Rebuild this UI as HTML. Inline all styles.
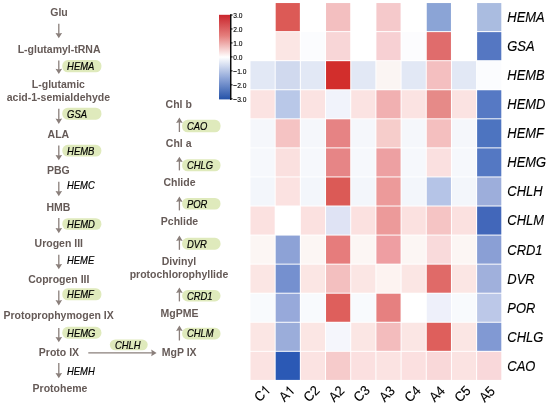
<!DOCTYPE html><html><head><meta charset="utf-8"><style>html,body{margin:0;padding:0;background:#fff}body{width:550px;height:407px;position:relative;overflow:hidden;font-family:"Liberation Sans",sans-serif}svg text{font-family:"Liberation Sans",sans-serif}</style></head><body>
<svg width="550" height="407" viewBox="0 0 550 407" style="position:absolute;left:0;top:0;will-change:transform">
<defs><linearGradient id="cb" x1="0" y1="0" x2="0" y2="1"><stop offset="0" stop-color="#c9252c"/><stop offset="0.25" stop-color="#e57f7d"/><stop offset="0.5" stop-color="#ffffff"/><stop offset="0.75" stop-color="#8fa6d8"/><stop offset="1" stop-color="#2452a8"/></linearGradient></defs>
<rect x="250.50" y="3.05" width="24.18" height="28.07" fill="#ffffff"/>
<rect x="275.68" y="3.05" width="24.18" height="28.07" fill="#dc5a56"/>
<rect x="300.86" y="3.05" width="24.18" height="28.07" fill="#ffffff"/>
<rect x="326.04" y="3.05" width="24.18" height="28.07" fill="#f3bfc0"/>
<rect x="351.22" y="3.05" width="24.18" height="28.07" fill="#ffffff"/>
<rect x="376.40" y="3.05" width="24.18" height="28.07" fill="#f5c9cb"/>
<rect x="401.58" y="3.05" width="24.18" height="28.07" fill="#ffffff"/>
<rect x="426.76" y="3.05" width="24.18" height="28.07" fill="#8ba4d6"/>
<rect x="451.94" y="3.05" width="24.18" height="28.07" fill="#ffffff"/>
<rect x="477.12" y="3.05" width="24.18" height="28.07" fill="#aabce0"/>
<rect x="250.50" y="32.12" width="24.18" height="28.07" fill="#ffffff"/>
<rect x="275.68" y="32.12" width="24.18" height="28.07" fill="#fbe6e4"/>
<rect x="300.86" y="32.12" width="24.18" height="28.07" fill="#fbfcfe"/>
<rect x="326.04" y="32.12" width="24.18" height="28.07" fill="#f8d6d7"/>
<rect x="351.22" y="32.12" width="24.18" height="28.07" fill="#ffffff"/>
<rect x="376.40" y="32.12" width="24.18" height="28.07" fill="#f7d0d3"/>
<rect x="401.58" y="32.12" width="24.18" height="28.07" fill="#fcfcfe"/>
<rect x="426.76" y="32.12" width="24.18" height="28.07" fill="#e06c6c"/>
<rect x="451.94" y="32.12" width="24.18" height="28.07" fill="#ffffff"/>
<rect x="477.12" y="32.12" width="24.18" height="28.07" fill="#5577c2"/>
<rect x="250.50" y="61.18" width="24.18" height="28.07" fill="#e2e8f5"/>
<rect x="275.68" y="61.18" width="24.18" height="28.07" fill="#d0d9ee"/>
<rect x="300.86" y="61.18" width="24.18" height="28.07" fill="#e2e8f5"/>
<rect x="326.04" y="61.18" width="24.18" height="28.07" fill="#d22e2c"/>
<rect x="351.22" y="61.18" width="24.18" height="28.07" fill="#e2e8f5"/>
<rect x="376.40" y="61.18" width="24.18" height="28.07" fill="#fbf5f3"/>
<rect x="401.58" y="61.18" width="24.18" height="28.07" fill="#e2e8f5"/>
<rect x="426.76" y="61.18" width="24.18" height="28.07" fill="#f4bfc0"/>
<rect x="451.94" y="61.18" width="24.18" height="28.07" fill="#e2e8f5"/>
<rect x="477.12" y="61.18" width="24.18" height="28.07" fill="#fbfcfe"/>
<rect x="250.50" y="90.25" width="24.18" height="28.07" fill="#fbe3e2"/>
<rect x="275.68" y="90.25" width="24.18" height="28.07" fill="#b9c8e8"/>
<rect x="300.86" y="90.25" width="24.18" height="28.07" fill="#fbe3e2"/>
<rect x="326.04" y="90.25" width="24.18" height="28.07" fill="#f1f3fb"/>
<rect x="351.22" y="90.25" width="24.18" height="28.07" fill="#fbe3e2"/>
<rect x="376.40" y="90.25" width="24.18" height="28.07" fill="#f1b0b1"/>
<rect x="401.58" y="90.25" width="24.18" height="28.07" fill="#fbe3e2"/>
<rect x="426.76" y="90.25" width="24.18" height="28.07" fill="#e68a88"/>
<rect x="451.94" y="90.25" width="24.18" height="28.07" fill="#fbe3e2"/>
<rect x="477.12" y="90.25" width="24.18" height="28.07" fill="#5679c4"/>
<rect x="250.50" y="119.31" width="24.18" height="28.07" fill="#f5f7fb"/>
<rect x="275.68" y="119.31" width="24.18" height="28.07" fill="#f5c3c3"/>
<rect x="300.86" y="119.31" width="24.18" height="28.07" fill="#f5f7fb"/>
<rect x="326.04" y="119.31" width="24.18" height="28.07" fill="#e68384"/>
<rect x="351.22" y="119.31" width="24.18" height="28.07" fill="#f5f7fb"/>
<rect x="376.40" y="119.31" width="24.18" height="28.07" fill="#f6cdcb"/>
<rect x="401.58" y="119.31" width="24.18" height="28.07" fill="#f5f7fb"/>
<rect x="426.76" y="119.31" width="24.18" height="28.07" fill="#f4bfbf"/>
<rect x="451.94" y="119.31" width="24.18" height="28.07" fill="#f5f7fb"/>
<rect x="477.12" y="119.31" width="24.18" height="28.07" fill="#4d74c0"/>
<rect x="250.50" y="148.38" width="24.18" height="28.07" fill="#f6f8fc"/>
<rect x="275.68" y="148.38" width="24.18" height="28.07" fill="#fae0df"/>
<rect x="300.86" y="148.38" width="24.18" height="28.07" fill="#f6f8fc"/>
<rect x="326.04" y="148.38" width="24.18" height="28.07" fill="#e68586"/>
<rect x="351.22" y="148.38" width="24.18" height="28.07" fill="#f6f8fc"/>
<rect x="376.40" y="148.38" width="24.18" height="28.07" fill="#eda0a2"/>
<rect x="401.58" y="148.38" width="24.18" height="28.07" fill="#f6f8fc"/>
<rect x="426.76" y="148.38" width="24.18" height="28.07" fill="#fae0e0"/>
<rect x="451.94" y="148.38" width="24.18" height="28.07" fill="#f6f8fc"/>
<rect x="477.12" y="148.38" width="24.18" height="28.07" fill="#5478c3"/>
<rect x="250.50" y="177.44" width="24.18" height="28.07" fill="#f3f6fb"/>
<rect x="275.68" y="177.44" width="24.18" height="28.07" fill="#fbe2e1"/>
<rect x="300.86" y="177.44" width="24.18" height="28.07" fill="#f3f6fb"/>
<rect x="326.04" y="177.44" width="24.18" height="28.07" fill="#db5a56"/>
<rect x="351.22" y="177.44" width="24.18" height="28.07" fill="#f3f6fb"/>
<rect x="376.40" y="177.44" width="24.18" height="28.07" fill="#ec9a9a"/>
<rect x="401.58" y="177.44" width="24.18" height="28.07" fill="#f3f6fb"/>
<rect x="426.76" y="177.44" width="24.18" height="28.07" fill="#b5c4e7"/>
<rect x="451.94" y="177.44" width="24.18" height="28.07" fill="#f3f6fb"/>
<rect x="477.12" y="177.44" width="24.18" height="28.07" fill="#9daedb"/>
<rect x="250.50" y="206.51" width="24.18" height="28.07" fill="#fbe1e0"/>
<rect x="275.68" y="206.51" width="24.18" height="28.07" fill="#ffffff"/>
<rect x="300.86" y="206.51" width="24.18" height="28.07" fill="#fbe1e0"/>
<rect x="326.04" y="206.51" width="24.18" height="28.07" fill="#dfe3f4"/>
<rect x="351.22" y="206.51" width="24.18" height="28.07" fill="#fbe1e0"/>
<rect x="376.40" y="206.51" width="24.18" height="28.07" fill="#ec9a9a"/>
<rect x="401.58" y="206.51" width="24.18" height="28.07" fill="#fbe1e0"/>
<rect x="426.76" y="206.51" width="24.18" height="28.07" fill="#f5c4c4"/>
<rect x="451.94" y="206.51" width="24.18" height="28.07" fill="#fbe1e0"/>
<rect x="477.12" y="206.51" width="24.18" height="28.07" fill="#4267ba"/>
<rect x="250.50" y="235.57" width="24.18" height="28.07" fill="#fcf6f4"/>
<rect x="275.68" y="235.57" width="24.18" height="28.07" fill="#8da2d6"/>
<rect x="300.86" y="235.57" width="24.18" height="28.07" fill="#fcf6f4"/>
<rect x="326.04" y="235.57" width="24.18" height="28.07" fill="#e67c7c"/>
<rect x="351.22" y="235.57" width="24.18" height="28.07" fill="#fcf6f4"/>
<rect x="376.40" y="235.57" width="24.18" height="28.07" fill="#ee9ea2"/>
<rect x="401.58" y="235.57" width="24.18" height="28.07" fill="#fcf6f4"/>
<rect x="426.76" y="235.57" width="24.18" height="28.07" fill="#f9dadb"/>
<rect x="451.94" y="235.57" width="24.18" height="28.07" fill="#fcf6f4"/>
<rect x="477.12" y="235.57" width="24.18" height="28.07" fill="#8a9fd5"/>
<rect x="250.50" y="264.64" width="24.18" height="28.07" fill="#fbe6e4"/>
<rect x="275.68" y="264.64" width="24.18" height="28.07" fill="#7590cf"/>
<rect x="300.86" y="264.64" width="24.18" height="28.07" fill="#fbe6e4"/>
<rect x="326.04" y="264.64" width="24.18" height="28.07" fill="#f3bfbf"/>
<rect x="351.22" y="264.64" width="24.18" height="28.07" fill="#fbe6e4"/>
<rect x="376.40" y="264.64" width="24.18" height="28.07" fill="#fdf3f1"/>
<rect x="401.58" y="264.64" width="24.18" height="28.07" fill="#fbe6e4"/>
<rect x="426.76" y="264.64" width="24.18" height="28.07" fill="#e06a68"/>
<rect x="451.94" y="264.64" width="24.18" height="28.07" fill="#fbe6e4"/>
<rect x="477.12" y="264.64" width="24.18" height="28.07" fill="#a0b0dc"/>
<rect x="250.50" y="293.70" width="24.18" height="28.07" fill="#f8fafd"/>
<rect x="275.68" y="293.70" width="24.18" height="28.07" fill="#97a9da"/>
<rect x="300.86" y="293.70" width="24.18" height="28.07" fill="#f8fafd"/>
<rect x="326.04" y="293.70" width="24.18" height="28.07" fill="#de5f5c"/>
<rect x="351.22" y="293.70" width="24.18" height="28.07" fill="#f8fafd"/>
<rect x="376.40" y="293.70" width="24.18" height="28.07" fill="#e68080"/>
<rect x="401.58" y="293.70" width="24.18" height="28.07" fill="#ffffff"/>
<rect x="426.76" y="293.70" width="24.18" height="28.07" fill="#eef0fa"/>
<rect x="451.94" y="293.70" width="24.18" height="28.07" fill="#f8fafd"/>
<rect x="477.12" y="293.70" width="24.18" height="28.07" fill="#bcc8e8"/>
<rect x="250.50" y="322.77" width="24.18" height="28.07" fill="#fbe6e4"/>
<rect x="275.68" y="322.77" width="24.18" height="28.07" fill="#9badda"/>
<rect x="300.86" y="322.77" width="24.18" height="28.07" fill="#fbe6e4"/>
<rect x="326.04" y="322.77" width="24.18" height="28.07" fill="#f5f6fc"/>
<rect x="351.22" y="322.77" width="24.18" height="28.07" fill="#fbe6e4"/>
<rect x="376.40" y="322.77" width="24.18" height="28.07" fill="#f3bcbd"/>
<rect x="401.58" y="322.77" width="24.18" height="28.07" fill="#fbe6e4"/>
<rect x="426.76" y="322.77" width="24.18" height="28.07" fill="#de5f5c"/>
<rect x="451.94" y="322.77" width="24.18" height="28.07" fill="#fbe6e4"/>
<rect x="477.12" y="322.77" width="24.18" height="28.07" fill="#8199d3"/>
<rect x="250.50" y="351.83" width="24.18" height="28.07" fill="#fbe3e2"/>
<rect x="275.68" y="351.83" width="24.18" height="28.07" fill="#2b59b5"/>
<rect x="300.86" y="351.83" width="24.18" height="28.07" fill="#fbe3e2"/>
<rect x="326.04" y="351.83" width="24.18" height="28.07" fill="#f6cbcb"/>
<rect x="351.22" y="351.83" width="24.18" height="28.07" fill="#fbe0e0"/>
<rect x="376.40" y="351.83" width="24.18" height="28.07" fill="#fbe3e2"/>
<rect x="401.58" y="351.83" width="24.18" height="28.07" fill="#fbe0e0"/>
<rect x="426.76" y="351.83" width="24.18" height="28.07" fill="#f9d8d9"/>
<rect x="451.94" y="351.83" width="24.18" height="28.07" fill="#fbe3e2"/>
<rect x="477.12" y="351.83" width="24.18" height="28.07" fill="#f9d8da"/>
<rect x="219" y="14.8" width="11.3" height="84.6" fill="url(#cb)"/>
<line x1="230.75" y1="14.3" x2="230.75" y2="100" stroke="#000" stroke-width="1.4"/>
<line x1="230.6" y1="15.00" x2="232.6" y2="15.00" stroke="#000" stroke-width="1"/>
<text transform="translate(233.3,17.80) scale(0.83,1)" font-size="8" fill="#000" stroke="#000" stroke-width="0.15">3.0</text>
<line x1="230.6" y1="28.97" x2="232.6" y2="28.97" stroke="#000" stroke-width="1"/>
<text transform="translate(233.3,31.77) scale(0.83,1)" font-size="8" fill="#000" stroke="#000" stroke-width="0.15">2.0</text>
<line x1="230.6" y1="42.94" x2="232.6" y2="42.94" stroke="#000" stroke-width="1"/>
<text transform="translate(233.3,45.74) scale(0.83,1)" font-size="8" fill="#000" stroke="#000" stroke-width="0.15">1.0</text>
<line x1="230.6" y1="56.91" x2="232.6" y2="56.91" stroke="#000" stroke-width="1"/>
<text transform="translate(233.3,59.71) scale(0.83,1)" font-size="8" fill="#000" stroke="#000" stroke-width="0.15">0.0</text>
<line x1="230.6" y1="70.88" x2="232.6" y2="70.88" stroke="#000" stroke-width="1"/>
<text transform="translate(233.3,73.68) scale(0.83,1)" font-size="8" fill="#000" stroke="#000" stroke-width="0.15">−1.0</text>
<line x1="230.6" y1="84.85" x2="232.6" y2="84.85" stroke="#000" stroke-width="1"/>
<text transform="translate(233.3,87.65) scale(0.83,1)" font-size="8" fill="#000" stroke="#000" stroke-width="0.15">−2.0</text>
<line x1="230.6" y1="98.82" x2="232.6" y2="98.82" stroke="#000" stroke-width="1"/>
<text transform="translate(233.3,101.62) scale(0.83,1)" font-size="8" fill="#000" stroke="#000" stroke-width="0.15">−3.0</text>
<text transform="translate(507.3,21.98) scale(0.925,1)" font-size="14" font-style="italic" fill="#000" stroke="#000" stroke-width="0.15">HEMA</text>
<text transform="translate(507.3,51.05) scale(0.925,1)" font-size="14" font-style="italic" fill="#000" stroke="#000" stroke-width="0.15">GSA</text>
<text transform="translate(507.3,80.11) scale(0.925,1)" font-size="14" font-style="italic" fill="#000" stroke="#000" stroke-width="0.15">HEMB</text>
<text transform="translate(507.3,109.18) scale(0.925,1)" font-size="14" font-style="italic" fill="#000" stroke="#000" stroke-width="0.15">HEMD</text>
<text transform="translate(507.3,138.24) scale(0.925,1)" font-size="14" font-style="italic" fill="#000" stroke="#000" stroke-width="0.15">HEMF</text>
<text transform="translate(507.3,167.31) scale(0.925,1)" font-size="14" font-style="italic" fill="#000" stroke="#000" stroke-width="0.15">HEMG</text>
<text transform="translate(507.3,196.37) scale(0.925,1)" font-size="14" font-style="italic" fill="#000" stroke="#000" stroke-width="0.15">CHLH</text>
<text transform="translate(507.3,225.44) scale(0.925,1)" font-size="14" font-style="italic" fill="#000" stroke="#000" stroke-width="0.15">CHLM</text>
<text transform="translate(507.3,254.50) scale(0.925,1)" font-size="14" font-style="italic" fill="#000" stroke="#000" stroke-width="0.15">CRD1</text>
<text transform="translate(507.3,283.57) scale(0.925,1)" font-size="14" font-style="italic" fill="#000" stroke="#000" stroke-width="0.15">DVR</text>
<text transform="translate(507.3,312.63) scale(0.925,1)" font-size="14" font-style="italic" fill="#000" stroke="#000" stroke-width="0.15">POR</text>
<text transform="translate(507.3,341.70) scale(0.925,1)" font-size="14" font-style="italic" fill="#000" stroke="#000" stroke-width="0.15">CHLG</text>
<text transform="translate(507.3,370.76) scale(0.925,1)" font-size="14" font-style="italic" fill="#000" stroke="#000" stroke-width="0.15">CAO</text>
<g transform="translate(271.34,391.00) rotate(-45) scale(0.94,1) translate(-17.38,0)"><text x="0" y="0" font-size="13.6" fill="#000" stroke="#000" stroke-width="0.12">C</text><path transform="translate(9.82,0) scale(0.006641,-0.006641)" d="M763 0 H583 V1147 Q518 1085 412.5 1023 Q307 961 223 930 V1104 Q374 1175 487 1276 Q600 1377 647 1472 H763 Z" fill="#000"/></g>
<g transform="translate(295.57,391.46) rotate(-45) scale(0.94,1) translate(-16.63,0)"><text x="0" y="0" font-size="13.6" fill="#000" stroke="#000" stroke-width="0.12">A</text><path transform="translate(9.07,0) scale(0.006641,-0.006641)" d="M763 0 H583 V1147 Q518 1085 412.5 1023 Q307 961 223 930 V1104 Q374 1175 487 1276 Q600 1377 647 1472 H763 Z" fill="#000"/></g>
<g transform="translate(320.50,391.12) rotate(-45) scale(0.94,1) translate(-17.38,0)"><text x="0" y="0" font-size="13.6" fill="#000" stroke="#000" stroke-width="0.12">C2</text></g>
<g transform="translate(345.33,391.58) rotate(-45) scale(0.94,1) translate(-16.63,0)"><text x="0" y="0" font-size="13.6" fill="#000" stroke="#000" stroke-width="0.12">A2</text></g>
<g transform="translate(370.66,391.24) rotate(-45) scale(0.94,1) translate(-17.38,0)"><text x="0" y="0" font-size="13.6" fill="#000" stroke="#000" stroke-width="0.12">C3</text></g>
<g transform="translate(395.69,391.70) rotate(-45) scale(0.94,1) translate(-16.63,0)"><text x="0" y="0" font-size="13.6" fill="#000" stroke="#000" stroke-width="0.12">A3</text></g>
<g transform="translate(421.52,391.36) rotate(-45) scale(0.94,1) translate(-17.38,0)"><text x="0" y="0" font-size="13.6" fill="#000" stroke="#000" stroke-width="0.12">C4</text></g>
<g transform="translate(445.75,391.82) rotate(-45) scale(0.94,1) translate(-16.63,0)"><text x="0" y="0" font-size="13.6" fill="#000" stroke="#000" stroke-width="0.12">A4</text></g>
<g transform="translate(471.58,391.48) rotate(-45) scale(0.94,1) translate(-17.38,0)"><text x="0" y="0" font-size="13.6" fill="#000" stroke="#000" stroke-width="0.12">C5</text></g>
<g transform="translate(495.81,391.94) rotate(-45) scale(0.94,1) translate(-16.63,0)"><text x="0" y="0" font-size="13.6" fill="#000" stroke="#000" stroke-width="0.12">A5</text></g>
<text x="59" y="15.95" text-anchor="middle" font-size="10.5" font-weight="bold" fill="#655a57">Glu</text>
<path d="M58.8 23.7 L58.8 35.3" stroke="#8a7f7b" stroke-width="1.3" fill="none"/>
<path d="M58.8 38.3 L55.5 32.9 L58.8 33.599999999999994 L62.099999999999994 32.9 Z" fill="#8a7f7b"/>
<text x="59.1" y="52.65" text-anchor="middle" font-size="10.5" font-weight="bold" fill="#655a57">L-glutamyl-tRNA</text>
<path d="M58.8 60.4 L58.8 71.1" stroke="#8a7f7b" stroke-width="1.3" fill="none"/>
<path d="M58.8 74.1 L55.5 68.69999999999999 L58.8 69.39999999999999 L62.099999999999994 68.69999999999999 Z" fill="#8a7f7b"/>
<rect x="62.3" y="60.050000000000004" width="39.10000000000001" height="12.199999999999996" rx="5.5" fill="#dfeabc"/>
<text transform="translate(67.1,69.95) scale(0.89,1)" font-size="10.6" font-style="italic" fill="#000" stroke="#000" stroke-width="0.2">HEMA</text>
<text x="58.4" y="88.35" text-anchor="middle" font-size="10.5" font-weight="bold" fill="#655a57">L-glutamic</text>
<text x="58.4" y="100.95" text-anchor="middle" font-size="10.5" font-weight="bold" fill="#655a57">acid-1-semialdehyde</text>
<path d="M58.8 108.7 L58.8 120.89999999999999" stroke="#8a7f7b" stroke-width="1.3" fill="none"/>
<path d="M58.8 123.89999999999999 L55.5 118.49999999999999 L58.8 119.19999999999999 L62.099999999999994 118.49999999999999 Z" fill="#8a7f7b"/>
<rect x="62.3" y="107.75" width="39.10000000000001" height="11.900000000000006" rx="5.5" fill="#dfeabc"/>
<text transform="translate(67.1,117.50) scale(0.89,1)" font-size="10.6" font-style="italic" fill="#000" stroke="#000" stroke-width="0.2">GSA</text>
<text x="58.4" y="137.55" text-anchor="middle" font-size="10.5" font-weight="bold" fill="#655a57">ALA</text>
<path d="M58.8 145.6 L58.8 157.3" stroke="#8a7f7b" stroke-width="1.3" fill="none"/>
<path d="M58.8 160.3 L55.5 154.9 L58.8 155.60000000000002 L62.099999999999994 154.9 Z" fill="#8a7f7b"/>
<rect x="62.3" y="144.85" width="39.10000000000001" height="11.700000000000017" rx="5.5" fill="#dfeabc"/>
<text transform="translate(67.1,154.50) scale(0.89,1)" font-size="10.6" font-style="italic" fill="#000" stroke="#000" stroke-width="0.2">HEMB</text>
<text x="58.4" y="174.05" text-anchor="middle" font-size="10.5" font-weight="bold" fill="#655a57">PBG</text>
<path d="M58.8 181.70000000000002 L58.8 193.3" stroke="#8a7f7b" stroke-width="1.3" fill="none"/>
<path d="M58.8 196.3 L55.5 190.9 L58.8 191.60000000000002 L62.099999999999994 190.9 Z" fill="#8a7f7b"/>
<text transform="translate(67,189.30) scale(0.89,1)" font-size="10.6" font-style="italic" fill="#000" stroke="#000" stroke-width="0.2">HEMC</text>
<text x="58.4" y="210.55" text-anchor="middle" font-size="10.5" font-weight="bold" fill="#655a57">HMB</text>
<path d="M58.8 218.1 L58.8 230.3" stroke="#8a7f7b" stroke-width="1.3" fill="none"/>
<path d="M58.8 233.3 L55.5 227.9 L58.8 228.60000000000002 L62.099999999999994 227.9 Z" fill="#8a7f7b"/>
<rect x="62.3" y="218.25" width="39.10000000000001" height="11.599999999999994" rx="5.5" fill="#dfeabc"/>
<text transform="translate(67.1,227.85) scale(0.89,1)" font-size="10.6" font-style="italic" fill="#000" stroke="#000" stroke-width="0.2">HEMD</text>
<text x="58.8" y="246.85" text-anchor="middle" font-size="10.5" font-weight="bold" fill="#655a57">Urogen III</text>
<path d="M58.8 254.70000000000002 L58.8 266.3" stroke="#8a7f7b" stroke-width="1.3" fill="none"/>
<path d="M58.8 269.3 L55.5 263.90000000000003 L58.8 264.6 L62.099999999999994 263.90000000000003 Z" fill="#8a7f7b"/>
<text transform="translate(67,263.70) scale(0.89,1)" font-size="10.6" font-style="italic" fill="#000" stroke="#000" stroke-width="0.2">HEME</text>
<text x="58.8" y="282.95" text-anchor="middle" font-size="10.5" font-weight="bold" fill="#655a57">Coprogen III</text>
<path d="M58.8 290.4 L58.8 302.40000000000003" stroke="#8a7f7b" stroke-width="1.3" fill="none"/>
<path d="M58.8 305.40000000000003 L55.5 300.00000000000006 L58.8 300.70000000000005 L62.099999999999994 300.00000000000006 Z" fill="#8a7f7b"/>
<rect x="62.3" y="288.35" width="39.10000000000001" height="11.899999999999977" rx="5.5" fill="#dfeabc"/>
<text transform="translate(67.1,298.10) scale(0.89,1)" font-size="10.6" font-style="italic" fill="#000" stroke="#000" stroke-width="0.2">HEMF</text>
<text x="58.6" y="318.75" text-anchor="middle" font-size="10.5" font-weight="bold" fill="#655a57">Protoprophymogen IX</text>
<path d="M58.8 327.9 L58.8 339.3" stroke="#8a7f7b" stroke-width="1.3" fill="none"/>
<path d="M58.8 342.3 L55.5 336.90000000000003 L58.8 337.6 L62.099999999999994 336.90000000000003 Z" fill="#8a7f7b"/>
<rect x="62.3" y="326.85" width="39.10000000000001" height="11.799999999999955" rx="5.5" fill="#dfeabc"/>
<text transform="translate(67.1,336.55) scale(0.89,1)" font-size="10.6" font-style="italic" fill="#000" stroke="#000" stroke-width="0.2">HEMG</text>
<text x="59" y="355.95" text-anchor="middle" font-size="10.5" font-weight="bold" fill="#655a57">Proto IX</text>
<path d="M58.8 363.0 L58.8 375.3" stroke="#8a7f7b" stroke-width="1.3" fill="none"/>
<path d="M58.8 378.3 L55.5 372.90000000000003 L58.8 373.6 L62.099999999999994 372.90000000000003 Z" fill="#8a7f7b"/>
<text transform="translate(67,374.50) scale(0.89,1)" font-size="10.6" font-style="italic" fill="#000" stroke="#000" stroke-width="0.2">HEMH</text>
<text x="60" y="392.25" text-anchor="middle" font-size="10.5" font-weight="bold" fill="#655a57">Protoheme</text>
<path d="M88.3 352.9 L153.5 352.9" stroke="#8a7f7b" stroke-width="1.3" fill="none"/>
<path d="M156.6 352.9 L151.2 349.6 L151.9 352.9 L151.2 356.2 Z" fill="#8a7f7b"/>
<rect x="109.8" y="339.45000000000005" width="37.89999999999999" height="10.799999999999955" rx="5.5" fill="#dfeabc"/>
<text transform="translate(114.9,348.65) scale(0.89,1)" font-size="10.6" font-style="italic" fill="#000" stroke="#000" stroke-width="0.2">CHLH</text>
<text x="179.2" y="355.75" text-anchor="middle" font-size="10.5" font-weight="bold" fill="#655a57">MgP IX</text>
<path d="M179.4 340.5 L179.4 328.5" stroke="#8a7f7b" stroke-width="1.3" fill="none"/>
<path d="M179.4 325.5 L176.1 330.9 L179.4 330.2 L182.70000000000002 330.9 Z" fill="#8a7f7b"/>
<rect x="182.10000000000002" y="327.85" width="38.39999999999998" height="11.599999999999966" rx="5.5" fill="#dfeabc"/>
<text transform="translate(186.90000000000003,337.45) scale(0.89,1)" font-size="10.6" font-style="italic" fill="#000" stroke="#000" stroke-width="0.2">CHLM</text>
<text x="179.5" y="316.65" text-anchor="middle" font-size="10.5" font-weight="bold" fill="#655a57">MgPME</text>
<path d="M179.4 301.4 L179.4 290.6" stroke="#8a7f7b" stroke-width="1.3" fill="none"/>
<path d="M179.4 287.6 L176.1 293.0 L179.4 292.3 L182.70000000000002 293.0 Z" fill="#8a7f7b"/>
<rect x="182.10000000000002" y="290.05" width="38.39999999999998" height="11.399999999999977" rx="5.5" fill="#dfeabc"/>
<text transform="translate(186.90000000000003,299.55) scale(0.89,1)" font-size="10.6" font-style="italic" fill="#000" stroke="#000" stroke-width="0.2">CRD1</text>
<text x="179" y="278.15" text-anchor="middle" font-size="10.5" font-weight="bold" fill="#655a57">protochlorophyllide</text>
<text x="179" y="265.05" text-anchor="middle" font-size="10.5" font-weight="bold" fill="#655a57">Divinyl</text>
<path d="M179.4 249.8 L179.4 238.5" stroke="#8a7f7b" stroke-width="1.3" fill="none"/>
<path d="M179.4 235.5 L176.1 240.9 L179.4 240.2 L182.70000000000002 240.9 Z" fill="#8a7f7b"/>
<rect x="182.10000000000002" y="237.85" width="38.39999999999998" height="11.800000000000011" rx="5.5" fill="#dfeabc"/>
<text transform="translate(186.90000000000003,247.55) scale(0.89,1)" font-size="10.6" font-style="italic" fill="#000" stroke="#000" stroke-width="0.2">DVR</text>
<text x="179.5" y="225.15" text-anchor="middle" font-size="10.5" font-weight="bold" fill="#655a57">Pchlide</text>
<path d="M179.4 210.4 L179.4 199.5" stroke="#8a7f7b" stroke-width="1.3" fill="none"/>
<path d="M179.4 196.5 L176.1 201.9 L179.4 201.2 L182.70000000000002 201.9 Z" fill="#8a7f7b"/>
<rect x="182.10000000000002" y="197.95" width="38.39999999999998" height="11.600000000000023" rx="5.5" fill="#dfeabc"/>
<text transform="translate(186.90000000000003,207.55) scale(0.89,1)" font-size="10.6" font-style="italic" fill="#000" stroke="#000" stroke-width="0.2">POR</text>
<text x="179.5" y="186.05" text-anchor="middle" font-size="10.5" font-weight="bold" fill="#655a57">Chlide</text>
<path d="M179.4 170.4 L179.4 159.7" stroke="#8a7f7b" stroke-width="1.3" fill="none"/>
<path d="M179.4 156.7 L176.1 162.1 L179.4 161.39999999999998 L182.70000000000002 162.1 Z" fill="#8a7f7b"/>
<rect x="182.10000000000002" y="159.15" width="38.39999999999998" height="12.099999999999994" rx="5.5" fill="#dfeabc"/>
<text transform="translate(186.90000000000003,169.00) scale(0.89,1)" font-size="10.6" font-style="italic" fill="#000" stroke="#000" stroke-width="0.2">CHLG</text>
<text x="178.7" y="146.95" text-anchor="middle" font-size="10.5" font-weight="bold" fill="#655a57">Chl a</text>
<path d="M179.4 132 L179.4 120.5" stroke="#8a7f7b" stroke-width="1.3" fill="none"/>
<path d="M179.4 117.5 L176.1 122.9 L179.4 122.2 L182.70000000000002 122.9 Z" fill="#8a7f7b"/>
<rect x="182.10000000000002" y="119.85" width="38.39999999999998" height="12.400000000000006" rx="5.5" fill="#dfeabc"/>
<text transform="translate(186.90000000000003,129.85) scale(0.89,1)" font-size="10.6" font-style="italic" fill="#000" stroke="#000" stroke-width="0.2">CAO</text>
<text x="178.7" y="107.95" text-anchor="middle" font-size="10.5" font-weight="bold" fill="#655a57">Chl b</text>
</svg>
</body></html>
